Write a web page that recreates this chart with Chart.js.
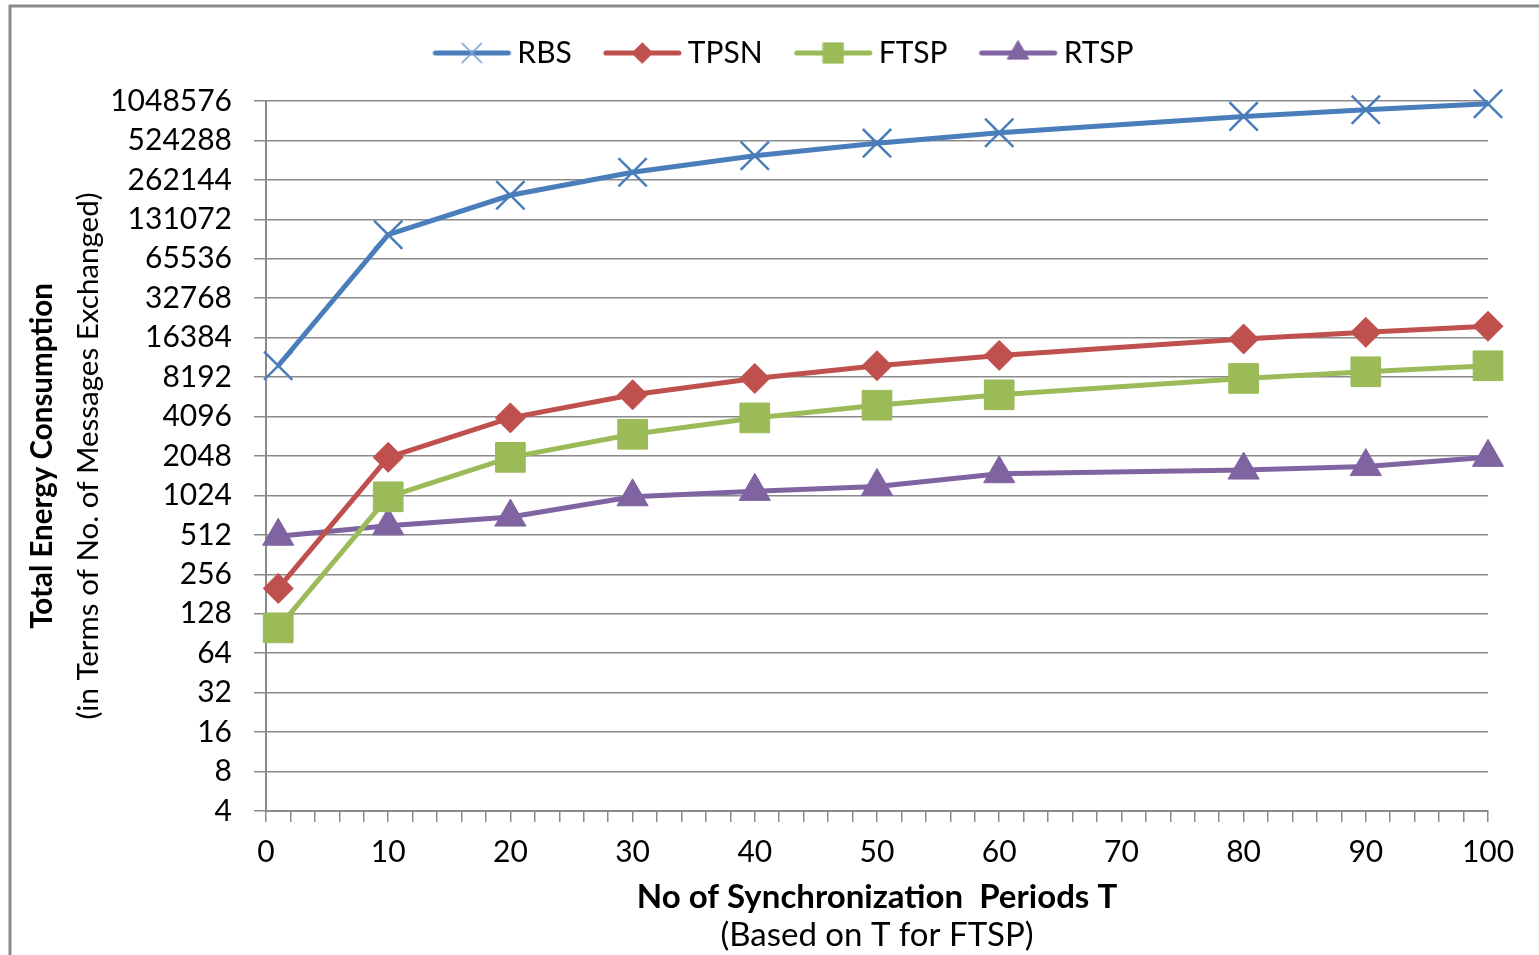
<!DOCTYPE html>
<html>
<head>
<meta charset="utf-8">
<script src="https://cdn.jsdelivr.net/npm/chart.js@4.4.0/dist/chart.umd.min.js"></script>
<style>
  html, body { margin: 0; padding: 0; background: #fff; }
  #wrap { width: 1539px; height: 955px; position: relative; }
</style>
</head>
<body>
<div id="wrap"><canvas id="chart"></canvas></div>
<script>
// values
const periods = [1, 10, 20, 30, 40, 50, 60, 80, 90, 100];
const rbs  = [10000, 100000, 200000, 300000, 400000, 500000, 600000, 800000, 900000, 1000000];
const tpsn = [200, 2000, 4000, 6000, 8000, 10000, 12000, 16000, 18000, 20000];
const ftsp = [100, 1000, 2000, 3000, 4000, 5000, 6000, 8000, 9000, 10000];
const rtsp = [500, 600, 700, 1000, 1100, 1200, 1500, 1600, 1700, 2000];

const yTicks = [4, 8, 16, 32, 64, 128, 256, 512, 1024, 2048, 4096, 8192, 16384,
  32768, 65536, 131072, 262144, 524288, 1048576];
const xTicks = [0, 10, 20, 30, 40, 50, 60, 70, 80, 90, 100];
const xMinorStep = 2;

const yTitle = ['Total Energy Consumption', '(in Terms of No. of Messages Exchanged)'];
const xTitle = ['No of Synchronization  Periods T', '(Based on T for FTSP)'];

const FONT = 'Lato';
const gridColor = '#8a8a8a';
const PLOT_TOP = 101;

const series = [
  { label: 'RBS',  data: rbs,  color: '#4a7ebb', marker: 'crossRot', radius: 20, bw: 2.5 },
  { label: 'TPSN', data: tpsn, color: '#c0504d', marker: 'rectRot',  radius: 15, bw: 1 },
  { label: 'FTSP', data: ftsp, color: '#9bbb59', marker: 'rect',     radius: 21, bw: 1 },
  { label: 'RTSP', data: rtsp, color: '#8064a2', marker: 'triangle', radius: 18, bw: 1 }
];

// legend icon: short line with the marker in the middle
// (canvas is a bit wider than the legend box so the line sits close to the text)
const ICON_BOX = 76;
function legendIcon(s) {
  const c = document.createElement('canvas');
  c.width = 100; c.height = 32;
  const ctx = c.getContext('2d');
  ctx.strokeStyle = s.color;
  ctx.lineWidth = 5;
  ctx.lineCap = 'round';
  ctx.beginPath();
  ctx.moveTo(21, 16); ctx.lineTo(94, 16);
  ctx.stroke();
  ctx.fillStyle = s.color;
  ctx.strokeStyle = s.marker === 'crossRot' ? '#7aa3d8' : s.color;
  ctx.lineWidth = s.marker === 'crossRot' ? 1.5 : 1;
  Chart.helpers.drawPoint(ctx, {
    pointStyle: s.marker, radius: s.radius * 0.68, borderWidth: ctx.lineWidth, rotation: 0
  }, 57.5, 16);
  return c;
}

const frameAndTitles = {
  id: 'frameAndTitles',
  beforeDraw(chart) {
    const ctx = chart.ctx;
    ctx.save();
    ctx.fillStyle = '#fff';
    ctx.fillRect(0, 0, chart.width, chart.height);
    ctx.strokeStyle = '#8a8a8a';
    ctx.lineWidth = 3;
    ctx.beginPath();
    ctx.moveTo(10, chart.height);
    ctx.lineTo(10, 6);
    ctx.lineTo(chart.width, 6);
    ctx.stroke();
    ctx.restore();
  },
  afterDraw(chart) {
    const ctx = chart.ctx;
    const ca = chart.chartArea;
    ctx.save();
    ctx.fillStyle = '#000';
    ctx.textAlign = 'center';
    ctx.textBaseline = 'middle';
    const cx = (ca.left + ca.right) / 2;
    ctx.font = 'bold 33px ' + FONT;
    ctx.fillText(xTitle[0], cx, ca.bottom + 86);
    ctx.font = '33px ' + FONT;
    ctx.fillText(xTitle[1], cx, ca.bottom + 124);

    const cy = (ca.top + ca.bottom) / 2;
    ctx.translate(ca.left - 224, cy);
    ctx.rotate(-Math.PI / 2);
    ctx.font = 'bold 29.5px ' + FONT;
    ctx.fillText(yTitle[0], 0, 0);
    ctx.restore();

    ctx.save();
    ctx.fillStyle = '#000';
    ctx.textAlign = 'center';
    ctx.textBaseline = 'middle';
    ctx.translate(ca.left - 178, cy);
    ctx.rotate(-Math.PI / 2);
    ctx.font = '29.5px ' + FONT;
    ctx.fillText(yTitle[1], 0, 0);
    ctx.restore();
  }
};

new Chart(document.getElementById('chart'), {
  type: 'line',
  data: {
    labels: periods,
    datasets: series.map(s => ({
      label: s.label,
      data: periods.map((p, i) => ({ x: p, y: s.data[i] })),
      borderColor: s.color,
      backgroundColor: s.color,
      borderWidth: 5,
      pointStyle: s.marker,
      pointRadius: s.radius,
      pointHoverRadius: s.radius,
      pointBorderWidth: s.bw,
      pointBackgroundColor: s.color,
      pointBorderColor: s.color,
      tension: 0,
      clip: false
    }))
  },
  options: {
    responsive: true,
    maintainAspectRatio: false,
    animation: false,
    layout: { padding: { top: 0, left: 72, right: 51, bottom: 0 } },
    plugins: {
      tooltip: { enabled: false },
      // empty title used only as a spacer between the legend and the plot
      title: {
        display: true,
        text: '',
        position: 'top',
        weight: 500,
        font: { size: 10, lineHeight: 1 },
        padding: { top: 0, bottom: 13 }
      },
      legend: {
        position: 'top',
        labels: {
          usePointStyle: true,
          pointStyleWidth: ICON_BOX,
          padding: 25,
          color: '#000',
          font: { family: FONT, size: 30 },
          generateLabels: chart => series.map((s, i) => ({
            text: s.label,
            pointStyle: legendIcon(s),
            fillStyle: s.color,
            strokeStyle: s.color,
            lineWidth: 0,
            hidden: false,
            datasetIndex: i,
            fontColor: '#000'
          }))
        }
      }
    },
    scales: {
      x: {
        type: 'linear',
        min: 0,
        max: 100,
        afterBuildTicks: scale => {
          const t = [];
          for (let v = xTicks[0]; v <= xTicks[xTicks.length - 1]; v += xMinorStep) t.push({ value: v });
          scale.ticks = t;
        },
        afterFit: scale => { scale.height = 144; },
        ticks: {
          autoSkip: false,
          maxRotation: 0,
          padding: 12,
          color: '#000',
          font: { family: FONT, size: 30 },
          callback: v => xTicks.includes(v) ? String(v) : ''
        },
        grid: {
          drawOnChartArea: false,
          drawTicks: true,
          tickLength: 11,
          color: gridColor,
          lineWidth: 1.5
        },
        border: { display: true, color: gridColor, width: 2 }
      },
      y: {
        type: 'logarithmic',
        min: yTicks[0],
        max: yTicks[yTicks.length - 1],
        afterBuildTicks: scale => { scale.ticks = yTicks.map(v => ({ value: v })); },
        afterFit: scale => {
          scale.width = 266 - 72;
          scale.paddingTop = PLOT_TOP;
        },
        ticks: {
          padding: 22,
          color: '#000',
          font: { family: FONT, size: 30 },
          callback: v => String(v)
        },
        grid: {
          color: gridColor,
          lineWidth: 1.5,
          tickLength: 12
        },
        border: { display: true, color: gridColor, width: 2 }
      }
    }
  },
  plugins: [frameAndTitles]
});
</script>
</body>
</html>
